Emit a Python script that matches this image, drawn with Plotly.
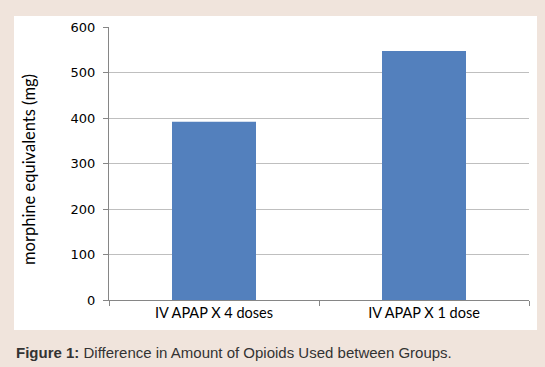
import plotly.graph_objects as go

categories = ["IV APAP X 4 doses", "IV APAP X 1 dose"]
values = [392, 547]
y_ticks = [0, 100, 200, 300, 400, 500, 600]

W, H = 545, 367
L, R, T, B = 109, 529, 27, 300  # plot area in pixels

def px(x):
    return (x - L) / (R - L)

def py(y):
    return (B - y) / (B - T)

fig = go.Figure()
fig.add_trace(go.Bar(
    x=categories, y=values, width=0.4,
    marker=dict(color="#5380bd", line=dict(width=0)),
))

fig.update_layout(
    width=W, height=H,
    margin=dict(l=L, r=W - R, t=T, b=H - B, pad=0),
    paper_bgcolor="#f0e4dc",
    plot_bgcolor="rgba(0,0,0,0)",
    showlegend=False,
    bargap=0.6,
    xaxis=dict(
        type="category",
        showline=True, linecolor="#868686", linewidth=1,
        ticks="outside", tickson="boundaries", ticklen=5, tickcolor="#868686",
        showgrid=False,
        tickfont=dict(family="Lato", size=14.5, color="#000000"),
        fixedrange=True,
    ),
    yaxis=dict(
        range=[0, 600], tickvals=y_ticks,
        showline=True, linecolor="#868686", linewidth=1,
        ticks="outside", ticklen=5, tickcolor="#868686",
        showgrid=True, gridcolor="#bfbfbf", gridwidth=1,
        zeroline=False,
        tickfont=dict(family="DejaVu Sans", size=13, color="#000000"),
        ticklabelstandoff=5,
        fixedrange=True,
    ),
    shapes=[dict(
        type="rect", xref="paper", yref="paper", layer="below",
        x0=px(14), x1=px(537), y0=py(330), y1=py(16),
        fillcolor="#ffffff", line=dict(width=0),
    )],
    annotations=[
        dict(
            text="morphine equivalents (mg)", textangle=-90,
            xref="paper", yref="paper", x=px(29), y=py(170),
            xanchor="center", yanchor="middle", showarrow=False,
            font=dict(family="Lato", size=16.5, color="#000000"),
        ),
        dict(
            text="<b>Figure 1:</b> Difference in Amount of Opioids Used between Groups.",
            xref="paper", yref="paper", x=px(14), y=py(352),
            xanchor="left", yanchor="middle", showarrow=False,
            font=dict(family="Liberation Sans", size=15, color="#333333"),
        ),
    ],
)

fig.write_html(
    "out.html",
    config={"displayModeBar": False},
    post_script="document.body.style.margin='0';",
)
